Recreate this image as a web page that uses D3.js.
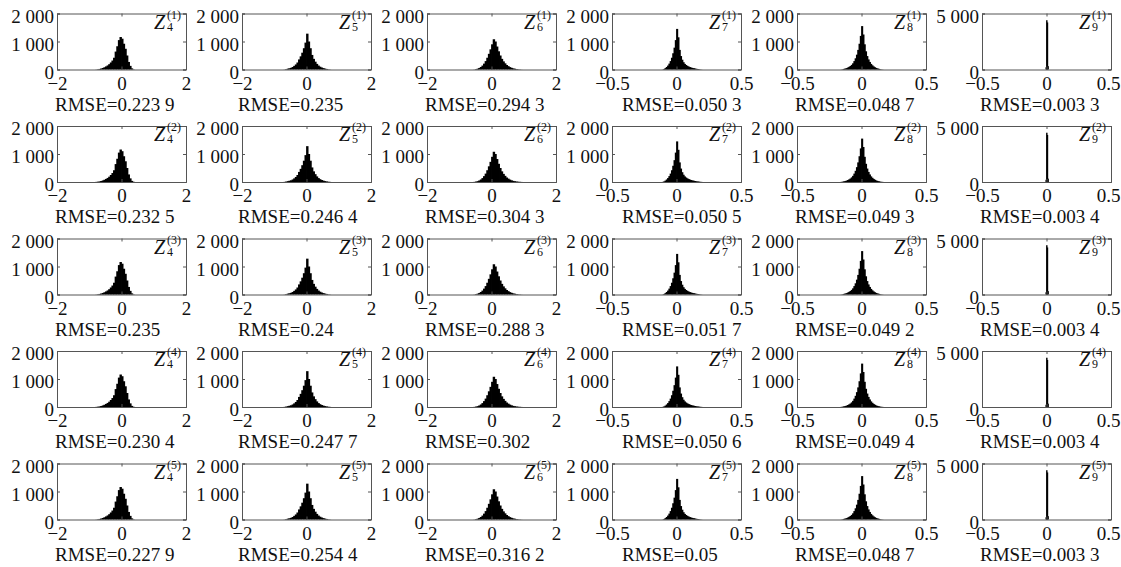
<!DOCTYPE html>
<html>
<head>
<meta charset="utf-8">
<script src="https://cdn.jsdelivr.net/npm/d3@7"></script>
<style>
  body { margin: 0; background: #fff; }
  svg text { font-family: "Liberation Serif", "Times New Roman", serif; fill: #111; }
</style>
</head>
<body>
<div id="chart"></div>
<script>
// panel labels
const colIndex = ["4", "5", "6", "7", "8", "9"]
const rowIndex = ["(1)", "(2)", "(3)", "(4)", "(5)"]

const rmseLabels = [
  ["0.223 9", "0.235", "0.294 3", "0.050 3", "0.048 7", "0.003 3"],
  ["0.232 5", "0.246 4", "0.304 3", "0.050 5", "0.049 3", "0.003 4"],
  ["0.235", "0.24", "0.288 3", "0.051 7", "0.049 2", "0.003 4"],
  ["0.230 4", "0.247 7", "0.302", "0.050 6", "0.049 4", "0.003 4"],
  ["0.227 9", "0.254 4", "0.316 2", "0.05", "0.048 7", "0.003 3"]
]

// axes per column
const xDomains = [[-2, 2], [-2, 2], [-2, 2], [-0.5, 0.5], [-0.5, 0.5], [-0.5, 0.5]]
const xTickValues = [[-2, 0, 2], [-2, 0, 2], [-2, 0, 2], [-0.5, 0, 0.5], [-0.5, 0, 0.5], [-0.5, 0, 0.5]]
const xTickLabels = [["−2", "0", "2"], ["−2", "0", "2"], ["−2", "0", "2"],
  ["−0.5", "0", "0.5"], ["−0.5", "0", "0.5"], ["−0.5", "0", "0.5"]]
const yMax = [2000, 2000, 2000, 2000, 2000, 5000]
const yTickValues = [[0, 1000, 2000], [0, 1000, 2000], [0, 1000, 2000], [0, 1000, 2000], [0, 1000, 2000], [0, 5000]]
const yTickLabels = [["0", "1 000", "2 000"], ["0", "1 000", "2 000"], ["0", "1 000", "2 000"],
  ["0", "1 000", "2 000"], ["0", "1 000", "2 000"], ["0", "5 000"]]

// histogram bins: first bin start, bin width, counts
const binStart = [-0.8, -0.7, -0.55, -0.11, -0.16, -0.005]
const binWidth = [0.05, 0.05, 0.05, 0.01, 0.01, 0.005]
const countsZ4 = [5, 10, 20, 35, 55, 80, 110, 145, 190, 250, 320, 420, 640, 830, 1050, 1160, 1100, 920, 740, 500, 270, 130, 40, 8]
const countsZ5 = [5, 15, 30, 45, 60, 90, 130, 180, 250, 360, 470, 600, 760, 960, 1280, 1000, 760, 520, 380, 280, 200, 140, 100, 70, 50, 32, 20, 10, 5]
const countsZ6 = [5, 15, 30, 55, 90, 140, 210, 300, 420, 560, 720, 900, 1080, 1000, 820, 650, 500, 380, 290, 220, 160, 120, 85, 60, 40, 28, 18, 10, 6, 3]
const countsZ7 = [5, 20, 50, 90, 140, 210, 300, 420, 580, 780, 1050, 1450, 1150, 700, 480, 350, 260, 200, 160, 130, 105, 85, 70, 55, 45, 35, 25, 18, 12, 7, 3]
const countsZ8 = [5, 12, 22, 35, 50, 70, 95, 125, 165, 220, 300, 400, 530, 700, 920, 1200, 1550, 1250, 900, 650, 480, 360, 270, 200, 150, 110, 80, 55, 38, 24, 14, 7, 3]
const countsZ9 = [200, 4400, 4200, 300]
const columnCounts = [countsZ4, countsZ5, countsZ6, countsZ7, countsZ8, countsZ9]

const width = 1121
const height = 567
const panel = { left: 57, top: 13.5, width: 129, height: 56, stepX: 185, stepY: 112.5 }
const captionShift = [-2, -4, -2, 10, -2, -2]
const tickFont = 19
const captionFont = 19

const svg = d3.select("#chart").append("svg")
    .attr("width", width)
    .attr("height", height)

rowIndex.forEach((rowLabel, r) => {
  colIndex.forEach((colLabel, c) => {
    const x = d3.scaleLinear().domain(xDomains[c]).range([0, panel.width])
    const y = d3.scaleLinear().domain([0, yMax[c]]).range([panel.height, 0])
    const originX = panel.left + c * panel.stepX

    const g = svg.append("g")
        .attr("transform", `translate(${originX},${panel.top + r * panel.stepY})`)

    // bars (slightly widened so neighbours close up into a solid shape)
    const bins = columnCounts[c].map((v, i) => ({
      x0: binStart[c] + i * binWidth[c],
      x1: binStart[c] + (i + 1) * binWidth[c],
      count: v
    }))
    g.append("g").selectAll("rect")
      .data(bins)
      .join("rect")
        .attr("x", d => x(d.x0) - 0.4)
        .attr("width", d => Math.max(1, x(d.x1) - x(d.x0) + 0.8))
        .attr("y", d => y(d.count))
        .attr("height", d => panel.height - y(d.count))
        .attr("fill", "#000")

    // axes: labelled left / bottom, mirrored ticks right / top
    const fmtX = d => xTickLabels[c][xTickValues[c].indexOf(d)]
    const fmtY = d => yTickLabels[c][yTickValues[c].indexOf(d)]

    const left = g.append("g")
        .call(d3.axisLeft(y).tickValues(yTickValues[c]).tickFormat(fmtY).tickSize(-3).tickPadding(3))
    const bottom = g.append("g")
        .attr("transform", `translate(0,${panel.height})`)
        .call(d3.axisBottom(x).tickValues(xTickValues[c]).tickFormat(fmtX).tickSize(-3).tickPadding(6))
    const right = g.append("g")
        .attr("transform", `translate(${panel.width},0)`)
        .call(d3.axisRight(y).tickValues(yTickValues[c]).tickFormat("").tickSize(-3))
    const top = g.append("g")
        .call(d3.axisTop(x).tickValues(xTickValues[c]).tickFormat("").tickSize(-3))

    ;[left, bottom, right, top].forEach(a => {
      a.attr("font-family", null).attr("font-size", null)
      a.select(".domain").attr("stroke", "#555").attr("stroke-width", 1)
      a.selectAll(".tick line").attr("stroke", "#555")
      a.selectAll("text")
          .style("font-size", tickFont + "px")
          .attr("fill", "#111")
    })
    left.selectAll("text").attr("dy", "0.45em")
    bottom.selectAll("text").attr("dy", "0.75em")

    // keep the last x label inside the page
    bottom.selectAll("text").each(function(d) {
      const right = originX + x(d) + this.getComputedTextLength() / 2
      if (right > width - 1) d3.select(this).attr("dx", width - 1 - right)
    })

    // Z label
    const zx = panel.width - 32
    g.append("text")
        .attr("x", zx)
        .attr("y", 15)
        .style("font-size", "20px")
        .style("font-style", "italic")
        .text("Z")
    g.append("text")
        .attr("x", zx + 13)
        .attr("y", 17)
        .style("font-size", "12px")
        .text(colLabel)
    g.append("text")
        .attr("x", zx + 13)
        .attr("y", 5)
        .style("font-size", "12px")
        .text(rowLabel)

    // RMSE caption, left aligned under the panel
    g.append("text")
        .attr("x", captionShift[c])
        .attr("y", panel.height + 41)
        .style("font-size", captionFont + "px")
        .text(`RMSE=${rmseLabels[r][c]}`)
  })
})
</script>
</body>
</html>
